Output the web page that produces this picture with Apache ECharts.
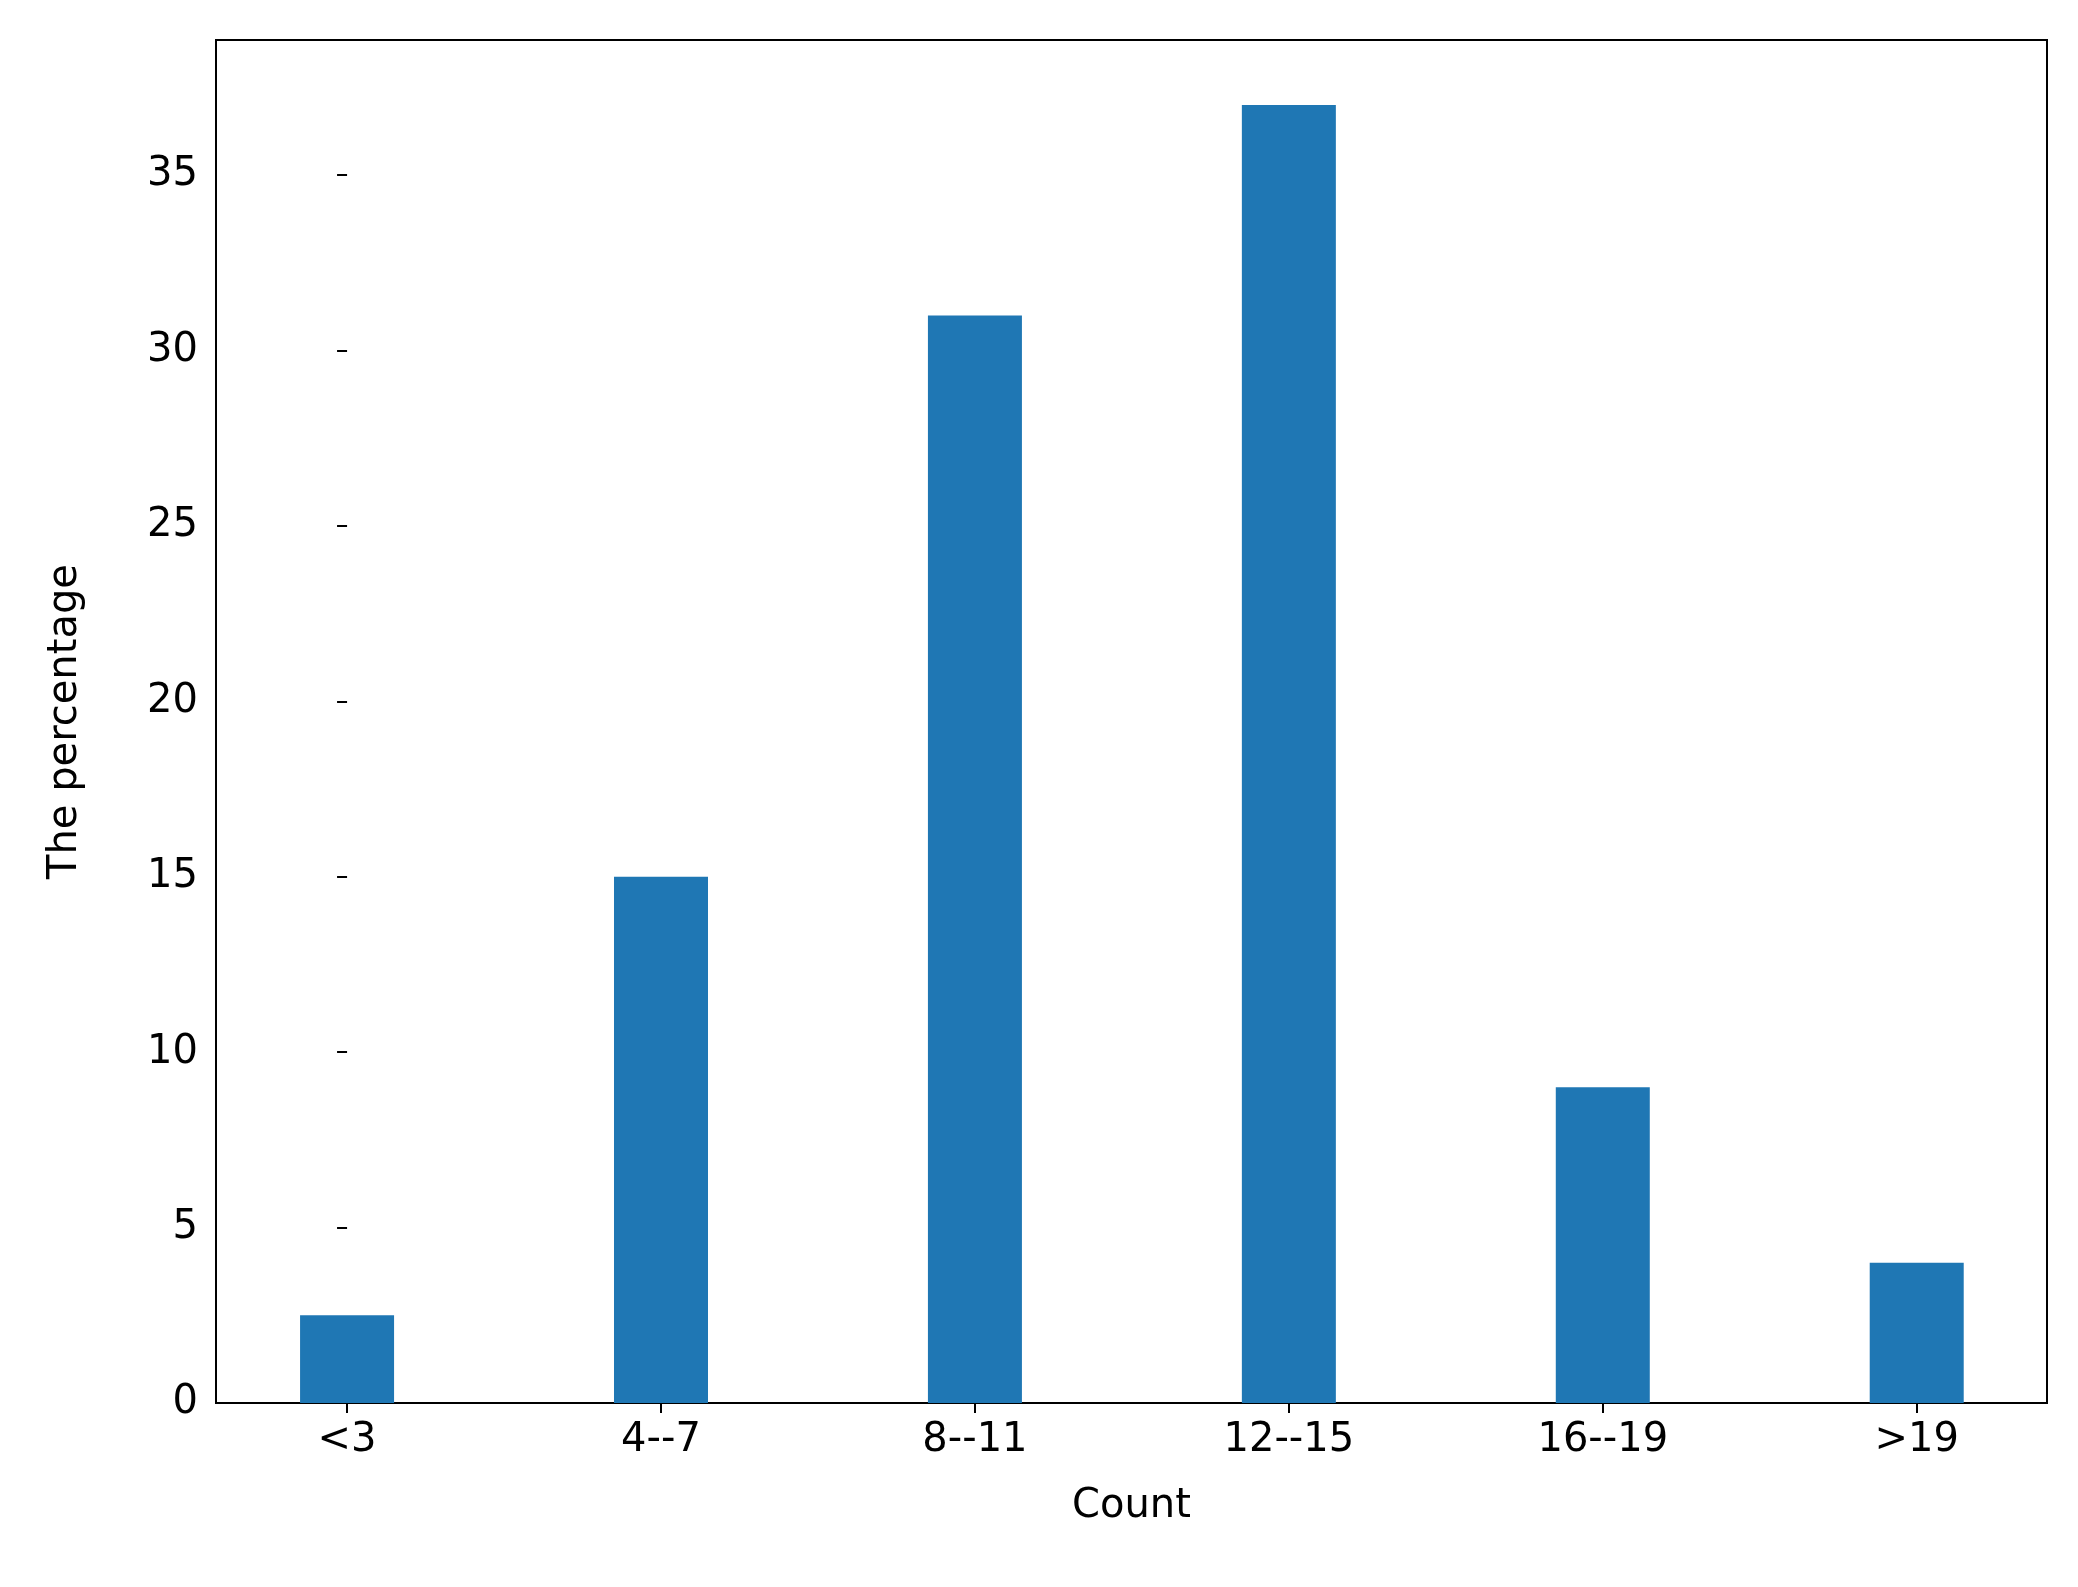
<!DOCTYPE html>
<html>
<head>
    <meta charset="UTF-8">
    <title>Count histogram</title>
    <script src="https://cdn.jsdelivr.net/npm/echarts/dist/echarts.min.js"></script>
</head>
<body style="margin:0">
    <div id="main" style="width: 2078px;height:1587px;"></div>
    <script type="text/javascript">
        var chart = echarts.init(document.getElementById('main'));

        // data
        var categories = ['<3', '4--7', '8--11', '12--15', '16--19', '>19'];
        var values = [2.5, 15, 31, 37, 9, 4];
        var positions = [0, 1, 2, 3, 4, 5];
        var yTicks = [0, 5, 10, 15, 20, 25, 30, 35];

        var font = 'DejaVu Sans';

        var option = {
            backgroundColor: '#fff',
            animation: false,
            grid: {
                left: 216, right: 31, top: 40, bottom: 184,
                show: true, borderColor: '#000', borderWidth: 2
            },
            xAxis: {
                type: 'value',
                min: -0.4175, max: 5.415,
                name: 'Count',
                nameLocation: 'middle',
                nameGap: 84,
                nameTextStyle: { fontFamily: font, fontSize: 40, color: '#000' },
                splitLine: { show: false },
                axisLine: { show: false },
                axisTick: { show: true, length: 10, customValues: positions,
                    lineStyle: { color: '#000', width: 2 } },
                axisLabel: { customValues: positions, margin: 18,
                    fontFamily: font, fontSize: 40, color: '#000',
                    formatter: function (v) { return categories[Math.round(v)]; } }
            },
            yAxis: {
                type: 'value',
                min: 0, max: 38.85, interval: 5,
                name: 'The percentage',
                nameLocation: 'middle',
                nameGap: 130,
                nameTextStyle: { fontFamily: font, fontSize: 40, color: '#000' },
                splitLine: { show: false },
                axisLine: { show: false },
                axisTick: { show: true, length: 10, customValues: yTicks,
                    lineStyle: { color: '#000', width: 2 } },
                axisLabel: { customValues: yTicks, margin: 18,
                    fontFamily: font, fontSize: 40, color: '#000' }
            },
            series: [{
                type: 'bar',
                barWidth: 94,
                itemStyle: { color: '#1f77b4' },
                data: positions.map(function (p, i) { return [p, values[i]]; })
            }]
        };

        chart.setOption(option);
    </script>
</body>
</html>
